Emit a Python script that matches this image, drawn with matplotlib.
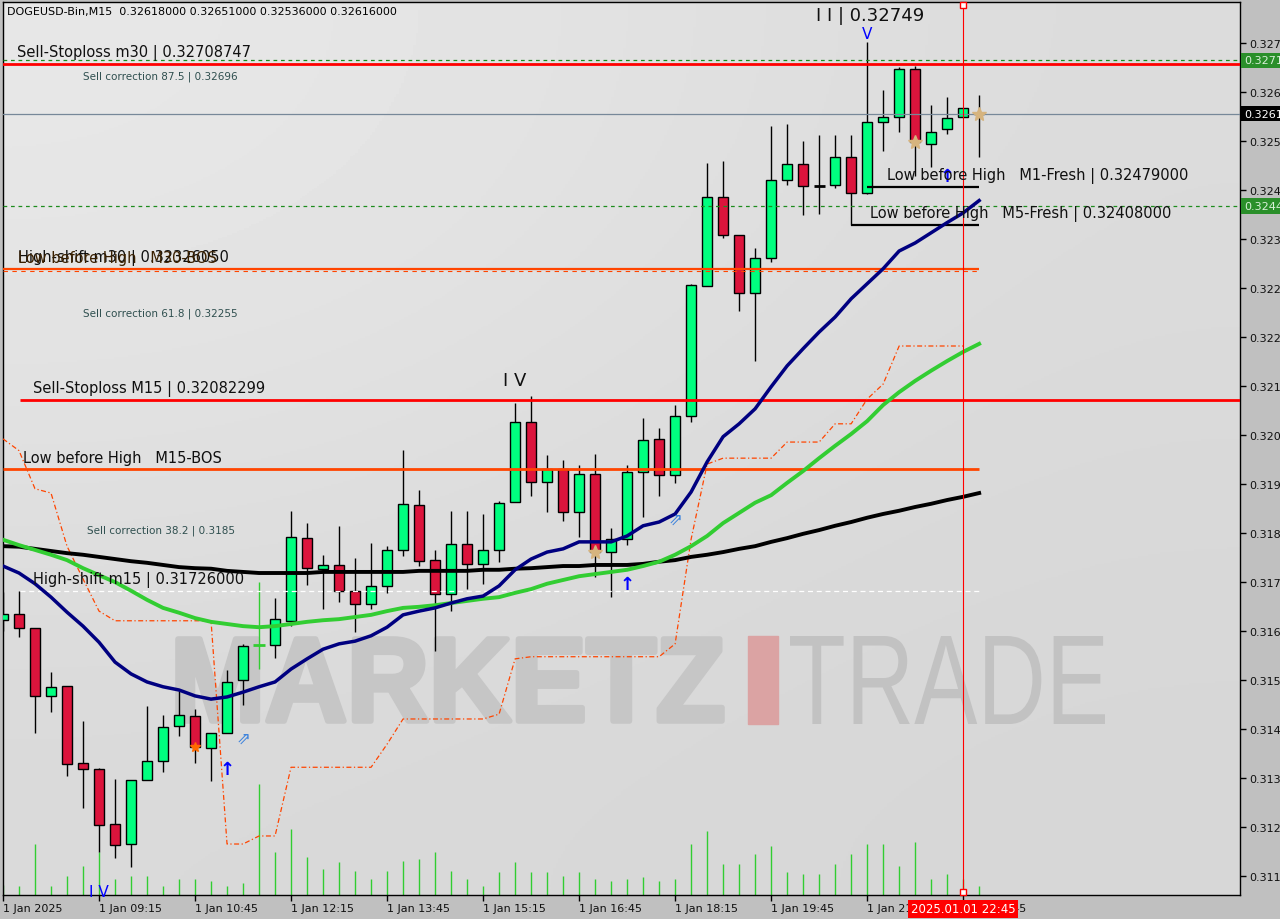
import matplotlib
matplotlib.use("Agg")
import matplotlib.pyplot as plt
import matplotlib.transforms as mtransforms
from matplotlib.patches import Rectangle, PathPatch
from matplotlib.textpath import TextPath
from matplotlib.font_manager import FontProperties
import numpy as np

# DOGEUSD M15 candles, 1 Jan 2025 07:45 .. 23:00
symbol = "DOGEUSD-Bin,M15"
last_ohlc = [0.32618000, 0.32651000, 0.32536000, 0.32616000]

opens = [0.31673, 0.31684, 0.31658, 0.31531, 0.31549, 0.31406, 0.31395, 0.31292, 0.31255, 0.31374,
         0.31410, 0.31475, 0.31494, 0.31434, 0.31462, 0.31561, 0.31626, 0.31626, 0.31671, 0.31825,
         0.31768, 0.31775, 0.31727, 0.31702, 0.31736, 0.31803, 0.31887, 0.31784, 0.31721, 0.31814,
         0.31777, 0.31803, 0.31892, 0.32042, 0.31930, 0.31954, 0.31874, 0.31945, 0.31799, 0.31823,
         0.31948, 0.32010, 0.31943, 0.32053, 0.32295, 0.32461, 0.32390, 0.32282, 0.32347, 0.32493,
         0.32522, 0.32481, 0.32483, 0.32536, 0.32468, 0.32601, 0.32610, 0.32700, 0.32560, 0.32588,
         0.32610, 0.32618]
highs = [0.31725, 0.31727, 0.31658, 0.31576, 0.31549, 0.31484, 0.31397, 0.31376, 0.31374, 0.31512,
         0.31495, 0.31540, 0.31507, 0.31462, 0.31579, 0.31628, 0.31743, 0.31714, 0.31876, 0.31853,
         0.31794, 0.31848, 0.31788, 0.31816, 0.31810, 0.31989, 0.31915, 0.31803, 0.31876, 0.31876,
         0.31870, 0.31894, 0.32077, 0.32090, 0.31980, 0.31971, 0.31961, 0.31982, 0.31844, 0.31961,
         0.32049, 0.32030, 0.32073, 0.32299, 0.32524, 0.32528, 0.32390, 0.32366, 0.32593, 0.32597,
         0.32565, 0.32577, 0.32577, 0.32577, 0.32749, 0.32660, 0.32703, 0.32705, 0.32632, 0.32647,
         0.32627, 0.32651]
lows = [0.31652, 0.31641, 0.31462, 0.31501, 0.31382, 0.31322, 0.31240, 0.31229, 0.31212, 0.31374,
        0.31389, 0.31456, 0.31406, 0.31372, 0.31462, 0.31514, 0.31581, 0.31602, 0.31661, 0.31738,
        0.31693, 0.31706, 0.31650, 0.31693, 0.31723, 0.31792, 0.31773, 0.31615, 0.31689, 0.31730,
        0.31740, 0.31781, 0.31892, 0.31904, 0.31874, 0.31857, 0.31827, 0.31752, 0.31715, 0.31812,
        0.31864, 0.31904, 0.31928, 0.32042, 0.32295, 0.32385, 0.32248, 0.32155, 0.32340, 0.32483,
        0.32427, 0.32429, 0.32478, 0.32409, 0.32467, 0.32547, 0.32582, 0.32500, 0.32517, 0.32578,
        0.32610, 0.32536]
closes = [0.31684, 0.31658, 0.31531, 0.31548, 0.31404, 0.31395, 0.31290, 0.31253, 0.31374, 0.31410,
          0.31473, 0.31495, 0.31436, 0.31462, 0.31557, 0.31624, 0.31626, 0.31674, 0.31827, 0.31769,
          0.31775, 0.31727, 0.31702, 0.31736, 0.31803, 0.31889, 0.31782, 0.31721, 0.31814, 0.31777,
          0.31803, 0.31891, 0.32042, 0.31930, 0.31954, 0.31874, 0.31945, 0.31799, 0.31823, 0.31948,
          0.32008, 0.31943, 0.32053, 0.32297, 0.32461, 0.32390, 0.32282, 0.32347, 0.32493, 0.32522,
          0.32481, 0.32481, 0.32536, 0.32468, 0.32601, 0.32610, 0.32700, 0.32563, 0.32582, 0.32608,
          0.32627, 0.32616]
volumes = [100, 90, 510, 90, 190, 290, 430, 160, 190, 190,
           90, 160, 160, 140, 90, 120, 1110, 430, 660, 380,
           260, 330, 240, 160, 240, 340, 360, 430, 240, 160,
           90, 230, 330, 230, 230, 190, 230, 160, 140, 160,
           180, 140, 160, 510, 640, 310, 310, 410, 490, 230,
           210, 210, 310, 410, 510, 510, 290, 530, 160, 210,
           160, 90]

# moving averages (navy fast, green middle, black slow)
ma_fast = [0.31773, 0.31760, 0.31740, 0.31715, 0.31687, 0.31661, 0.31631, 0.31594, 0.31572, 0.31557,
           0.31548, 0.31542, 0.31531, 0.31525, 0.31529, 0.31538, 0.31548, 0.31557, 0.31581, 0.31600,
           0.31618, 0.31628, 0.31633, 0.31643, 0.31659, 0.31682, 0.31689, 0.31695, 0.31704, 0.31712,
           0.31717, 0.31736, 0.31766, 0.31786, 0.31799, 0.31805, 0.31818, 0.31818, 0.31818, 0.31829,
           0.31848, 0.31855, 0.31870, 0.31911, 0.31967, 0.32014, 0.32038, 0.32066, 0.32107, 0.32146,
           0.32178, 0.32209, 0.32237, 0.32271, 0.32299, 0.32327, 0.32360, 0.32375, 0.32394, 0.32413,
           0.32431, 0.32454]
ma_mid = [0.31822, 0.31812, 0.31803, 0.31794, 0.31784, 0.31769, 0.31756, 0.31743, 0.31727, 0.31710,
          0.31695, 0.31686, 0.31676, 0.31669, 0.31665, 0.31661, 0.31659, 0.31661, 0.31665, 0.31669,
          0.31672, 0.31674, 0.31678, 0.31682, 0.31689, 0.31695, 0.31697, 0.31700, 0.31704, 0.31708,
          0.31712, 0.31715, 0.31723, 0.31730, 0.31740, 0.31747, 0.31754, 0.31758, 0.31762, 0.31766,
          0.31773, 0.31781, 0.31794, 0.31810, 0.31829, 0.31853, 0.31872, 0.31891, 0.31905, 0.31928,
          0.31950, 0.31974, 0.31997, 0.32019, 0.32043, 0.32073, 0.32097, 0.32118, 0.32137, 0.32155,
          0.32172, 0.32187]
ma_slow = [0.31810, 0.31809, 0.31805, 0.31801, 0.31797, 0.31794, 0.31790, 0.31786, 0.31782, 0.31779,
           0.31775, 0.31771, 0.31769, 0.31768, 0.31764, 0.31762, 0.31760, 0.31760, 0.31760, 0.31760,
           0.31762, 0.31762, 0.31762, 0.31762, 0.31762, 0.31762, 0.31764, 0.31764, 0.31764, 0.31764,
           0.31766, 0.31766, 0.31768, 0.31769, 0.31771, 0.31773, 0.31773, 0.31775, 0.31775, 0.31775,
           0.31777, 0.31781, 0.31784, 0.31790, 0.31794, 0.31799, 0.31805, 0.31810, 0.31818, 0.31825,
           0.31833, 0.31840, 0.31848, 0.31855, 0.31863, 0.31870, 0.31876, 0.31883, 0.31889, 0.31896,
           0.31902, 0.31909]
# orange trailing line (bars 0..60)
trail = [0.32010, 0.31988, 0.31917, 0.31909, 0.31810, 0.31749, 0.31689, 0.31671, 0.31671, 0.31671,
         0.31671, 0.31671, 0.31671, 0.31671, 0.31255, 0.31255, 0.31270, 0.31270, 0.31398, 0.31398,
         0.31398, 0.31398, 0.31398, 0.31398, 0.31441, 0.31488, 0.31488, 0.31488, 0.31488, 0.31488,
         0.31488, 0.31497, 0.31600, 0.31604, 0.31604, 0.31604, 0.31604, 0.31604, 0.31604, 0.31604,
         0.31604, 0.31604, 0.31628, 0.31823, 0.31963, 0.31974, 0.31974, 0.31974, 0.31974, 0.32004,
         0.32004, 0.32004, 0.32038, 0.32038, 0.32084, 0.32112, 0.32183, 0.32183, 0.32183, 0.32183,
         0.32183]

time_labels = ["1 Jan 2025", "1 Jan 09:15", "1 Jan 10:45", "1 Jan 12:15", "1 Jan 13:45", "1 Jan 15:15",
               "1 Jan 16:45", "1 Jan 18:15", "1 Jan 19:45", "1 Jan 21:15", "1 Jan 22:45"]
time_label_bars = [0, 6, 12, 18, 24, 30, 36, 42, 48, 54, 60]
price_ticks = [0.32748, 0.32657, 0.32565, 0.32474, 0.32383, 0.32291, 0.32200, 0.32109, 0.32017,
               0.31926, 0.31835, 0.31743, 0.31652, 0.31561, 0.31469, 0.31378, 0.31287, 0.31195]

# levels
sell_sl_m30 = 0.32708747
sell_sl_m15 = 0.32082299
high_shift_m30 = 0.32326050
bos_m15 = 0.31954
high_shift_m15 = 0.31726000
lbh_m1 = 0.32479000
lbh_m5 = 0.32408000
peak_III = 0.32749
green_levels = [0.32715, 0.32444]
bid = 0.32616
corrections = [("87.5", 0.32696), ("61.8", 0.32255), ("38.2", 0.3185)]

star_bars = [37, 57, 61]
orange_star_bars = [12]
green_doji_bars = [16]
up_arrow_bars = [14, 39, 59]
up_arrow_prices = [0.31395, 0.31740, 0.32500]
hollow_arrow_bars = [15, 42]
hollow_arrow_prices = [0.31454, 0.31861]
cursor_bar = 60
cursor_label = "2025.01.01 22:45"

W, H = 1280, 920
fig = plt.figure(figsize=(W / 100, H / 100), dpi=100, facecolor="#c0c0c0")
ax = fig.add_axes([3 / W, 24 / H, 1237 / W, 893 / H])
ax.set_facecolor("#d8d8d8")

# background gradient
grad = np.array([[0.91, 0.86], [0.85, 0.84]])
ax.imshow(grad, extent=[0, 1, 0, 1], transform=ax.transAxes, cmap="gray", vmin=0, vmax=1,
          interpolation="bicubic", aspect="auto", zorder=0)


# watermark text squeezed into a box given in figure pixels
def watermark(text, left, top, width, height, weight, color, stroke):
    tp = TextPath((0, 0), text, size=1, prop=FontProperties(family="Liberation Sans", weight=weight))
    ext = tp.get_extents()
    tr = (mtransforms.Affine2D().translate(-ext.x0, -ext.y0)
          .scale(width / W / ext.width, height / H / ext.height)
          .translate(left / W, 1 - (top + height) / H) + fig.transFigure)
    ax.add_patch(PathPatch(tp, transform=tr, fc=color, ec=color, lw=stroke, joinstyle="round",
                           zorder=1, clip_on=False))


watermark("MARKETZ", 178, 640, 544, 82, "bold", "#c6c6c6", 4)
ax.add_patch(Rectangle((748 / W, 1 - 725 / H), 30 / W, 88 / H, transform=fig.transFigure,
                       color="#dba3a3", zorder=1, clip_on=False))
watermark("TRADE", 790, 637, 315, 88, "normal", "#c2c2c2", 0)

x = np.arange(len(opens))
o = np.array(opens); h = np.array(highs); l = np.array(lows); c = np.array(closes)

# volumes
vtrans = mtransforms.blended_transform_factory(ax.transData, ax.transAxes)
ax.vlines(x, 0, np.array(volumes) / 8930, color="#32cd32", lw=1, transform=vtrans, zorder=2)

# candles
wick_col = np.array(["black"] * len(x), dtype=object)
wick_col[green_doji_bars] = "#32cd32"
ax.vlines(x, l, h, colors=list(wick_col), lw=1, zorder=4)
body = c != o
bull = c > o
ax.bar(x[body], np.abs(c - o)[body], bottom=np.minimum(o, c)[body], width=0.62,
       color=np.where(bull, "#00ff7f", "#dc143c")[body], edgecolor="black", linewidth=1, zorder=5)
ax.hlines(o[~body], x[~body] - 0.35, x[~body] + 0.35, colors=list(wick_col[~body]), lw=2, zorder=5)

# level lines
ax.axhline(sell_sl_m30, color="#ff0000", lw=2, zorder=6)
for g in green_levels:
    ax.axhline(g, color="#1e8c1e", lw=0.9, ls=(0, (3, 3)), zorder=6)
ax.axhline(bid, color="#778899", lw=0.9, zorder=6)
ax.hlines(high_shift_m30, 0, 61, color="#ff4500", lw=1.6, zorder=6)
ax.hlines(high_shift_m30 - 0.00004, 0, 61, color="#ff4500", lw=0.8, ls=(0, (4, 4)), zorder=6)
ax.hlines(sell_sl_m15, 1.05, 78, color="#ff0000", lw=2, zorder=6)
ax.hlines(bos_m15, 0, 61, color="#ff4500", lw=2, zorder=6)
ax.hlines(high_shift_m15, 1.05, 61, color="white", lw=0.9, ls=(0, (4, 3)), zorder=6)
ax.hlines(lbh_m1, 54, 61, color="black", lw=1.6, zorder=6)
ax.hlines(lbh_m5, 53, 61, color="black", lw=1.6, zorder=6)

# trailing line and moving averages
ax.plot(x[:len(trail)], trail, color="#ff4500", lw=0.9, ls=(0, (4, 2, 1, 2)), zorder=6)
ax.plot(x, ma_slow, color="black", lw=2.8, zorder=7)
ax.plot(x, ma_mid, color="#32cd32", lw=2.8, zorder=7)
ax.plot(x, ma_fast, color="#000080", lw=2.5, zorder=7)

# markers
ax.plot(x[star_bars], c[star_bars], ls="none", marker="*", ms=10, color="#d6b47e", zorder=8)
ax.plot(x[orange_star_bars], c[orange_star_bars], ls="none", marker="*", ms=7, color="#ff6a00", zorder=8)
for b, p in zip(up_arrow_bars, up_arrow_prices):
    ax.text(b, p, "\u2191", color="#0000ff", fontsize=13, fontweight="bold", ha="center", va="center", zorder=8)
for b, p in zip(hollow_arrow_bars, hollow_arrow_prices):
    ax.text(b, p, "\u21d7", color="#3c82dc", fontsize=12, ha="center", va="center", zorder=8)

# cursor line
ax.axvline(cursor_bar, color="#ff0000", lw=0.8, zorder=8)

# texts
lbl = dict(fontsize=10.5, color="#101010", ha="left", va="bottom", textcoords="offset points",
           xytext=(0, 3), zorder=9, annotation_clip=False)
ax.annotate("Sell-Stoploss m30 | %.8f" % sell_sl_m30, (0.88, sell_sl_m30), **lbl)
ax.annotate("High-shift m30 | %.8f" % high_shift_m30, (0.94, high_shift_m30), **lbl)
ax.annotate("Low before High   M30-BOS", (0.94, high_shift_m30), **dict(lbl, color="#3a2000"))
ax.annotate("Sell-Stoploss M15 | %.8f" % sell_sl_m15, (1.88, sell_sl_m15), **lbl)
ax.annotate("Low before High   M15-BOS", (1.25, bos_m15), **lbl)
ax.annotate("High-shift m15 | %.8f" % high_shift_m15, (1.88, high_shift_m15), **lbl)
ax.annotate("Low before High   M1-Fresh | %.8f" % lbh_m1, (55.25, lbh_m1), **lbl)
ax.annotate("Low before High   M5-Fresh | %.8f" % lbh_m5, (54.2, lbh_m5), **lbl)
for (pct, lev), xb in zip(corrections, [5.0, 5.0, 5.25]):
    ax.text(xb, lev, "Sell correction %s | %s" % (pct, lev), fontsize=7.5, color="#2f4f4f",
            ha="left", va="top", zorder=9)
ax.annotate("I I | %.5f" % peak_III, (54, peak_III), xytext=(-37, 13), textcoords="offset points",
            fontsize=13, ha="left", va="bottom", color="#101010", zorder=9, annotation_clip=False)
ax.annotate("V", (54, peak_III), xytext=(0, 1), textcoords="offset points", fontsize=11,
            ha="center", va="bottom", color="#0000ff", zorder=9)
ax.annotate("I V", (32, highs[32]), xytext=(0, 10), textcoords="offset points", fontsize=13,
            ha="center", va="bottom", color="#101010", zorder=9)
ax.text(6, 0.31166, "I V", fontsize=11, ha="center", va="center", color="#0000ff", zorder=9)

# axes
ax.set_xlim(0, 77.3)
ax.set_ylim(0.31160, 0.32824)
ax.yaxis.tick_right()
ax.set_yticks(price_ticks)
ax.set_yticklabels(["%.5f" % t for t in price_ticks])
ax.set_xticks(time_label_bars)
ax.set_xticklabels(time_labels, ha="left")
ax.tick_params(axis="both", direction="out", length=4, width=1, labelsize=8, colors="black",
               labelcolor="#101010")
ax.tick_params(axis="x", pad=2)
ax.tick_params(axis="y", pad=3)
for s in ax.spines.values():
    s.set_color("black")
    s.set_linewidth(1)

# price tags on the right
for g in green_levels:
    ax.annotate("%.5f" % g, (1, g), xycoords=("axes fraction", "data"), xytext=(3, 0),
                textcoords="offset points", fontsize=8, color="#d8f0d8", va="center", ha="left",
                bbox=dict(boxstyle="square,pad=0.25", fc="#2a8f2a", ec="none"), annotation_clip=False, zorder=10)
ax.annotate("%.5f" % bid, (1, bid), xycoords=("axes fraction", "data"), xytext=(3, 0),
            textcoords="offset points", fontsize=8, color="white", va="center", ha="left",
            bbox=dict(boxstyle="square,pad=0.25", fc="black", ec="none"), annotation_clip=False, zorder=10)
ax.annotate(cursor_label, (cursor_bar, 0), xycoords=("data", "axes fraction"), xytext=(0, -10),
            textcoords="offset points", fontsize=8.5, color="white", va="center", ha="center",
            bbox=dict(boxstyle="square,pad=0.2", fc="#ff0000", ec="none"), annotation_clip=False, zorder=10)
ax.plot([cursor_bar, cursor_bar], [0.003, 0.997], transform=vtrans, ls="none", marker="s", ms=4,
        mfc="white", mec="red", clip_on=False, zorder=10)

fig.text(7 / W, 1 - 12 / H, "%s  %s" % (symbol, " ".join("%.8f" % v for v in last_ohlc)),
         fontsize=8, color="black", ha="left", va="center")

fig.savefig("out.png", dpi=100, facecolor=fig.get_facecolor())
